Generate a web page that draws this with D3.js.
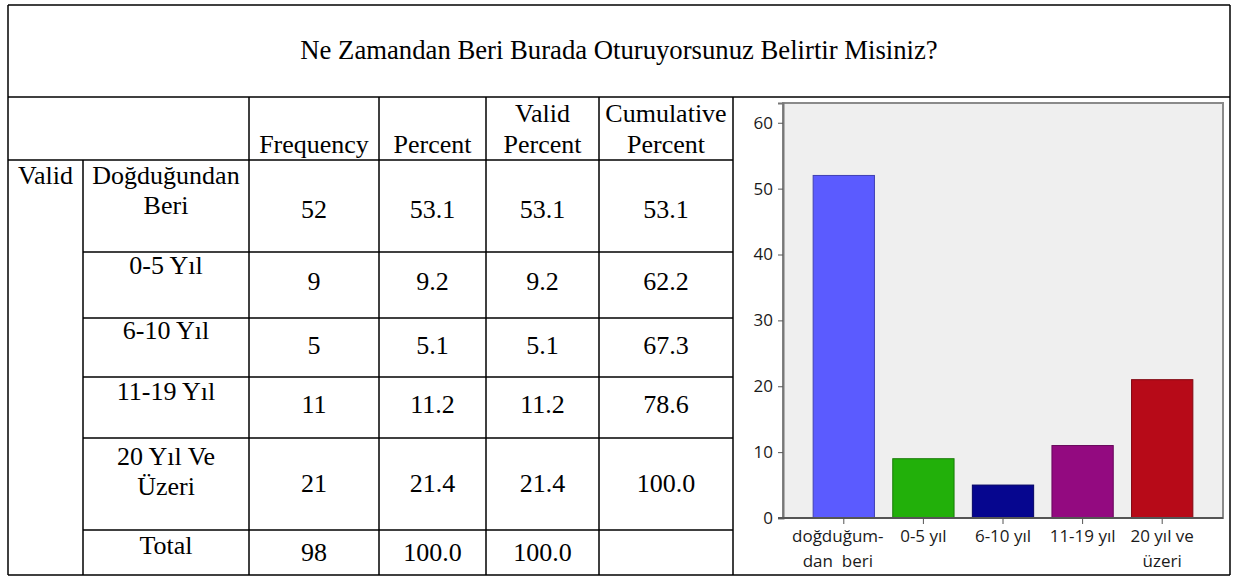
<!DOCTYPE html>
<meta charset="utf-8">
<script src="https://d3js.org/d3.v7.min.js"></script>
<style>
    body { margin: 0; background: #fff; }
    .cell { font-family: "Liberation Serif", "Times New Roman", serif; font-size: 26px; fill: #000; text-anchor: middle; }
    .axisText { font-family: "Open Sans", "Noto Sans", sans-serif; font-size: 17px; fill: #1a1a1a; }
</style>
<div id="chart"></div>
<script>
    // ---- data ----
    const title = "Ne Zamandan Beri Burada Oturuyorsunuz Belirtir Misiniz?";
    const headers = [[""], ["Frequency"], ["Percent"], ["Valid", "Percent"], ["Cumulative", "Percent"]];
    const categories = [["Doğduğundan", "Beri"], ["0-5 Yıl"], ["6-10 Yıl"], ["11-19 Yıl"], ["20 Yıl Ve", "Üzeri"]];
    const frequency = [52, 9, 5, 11, 21];
    const percent = [53.1, 9.2, 5.1, 11.2, 21.4];
    const validPercent = [53.1, 9.2, 5.1, 11.2, 21.4];
    const cumulativePercent = [53.1, 62.2, 67.3, 78.6, 100.0];
    const totalRow = ["Total", "98", "100.0", "100.0", ""];
    const barLabels = [["doğduğum-", "dan  beri"], ["0-5 yıl"], ["6-10 yıl"], ["11-19 yıl"], ["20 yıl ve", "üzeri"]];
    const yTicks = [0, 10, 20, 30, 40, 50, 60];

    const barColors = ["#5b5bff", "#22b00a", "#06068f", "#930a80", "#b70a18"];

    // ---- layout ----
    const W = 1234, H = 577;
    const colX = [8, 83, 249, 379, 486, 599, 733, 1230];
    const tblTop = 5, headTop = 97, bodyTop = 160, tblBottom = 575;
    const rowY = [160, 252, 318, 377, 438, 530, 575];
    const numOffset = [58, 38, 36, 36, 54, 31];  // baseline offset of numbers inside row
    const labelOffset = [24, 22, 21, 23, 27, 24];
    const lineH = 29.5;

    const svg = d3.select("#chart").append("svg").attr("width", W).attr("height", H);

    const g = svg.append("g").attr("class", "table");
    const line = (x1, y1, x2, y2) => g.append("line")
        .attr("x1", x1).attr("y1", y1).attr("x2", x2).attr("y2", y2)
        .attr("stroke", "#000").attr("stroke-width", 1.5);

    // outer border + title row
    line(colX[0], tblTop, colX[7], tblTop);
    line(colX[0], headTop, colX[7], headTop);
    line(colX[0], tblBottom, colX[7], tblBottom);
    line(colX[0], tblTop, colX[0], tblBottom);
    line(colX[7], tblTop, colX[7], tblBottom);
    // column lines
    line(colX[1], bodyTop, colX[1], tblBottom);
    colX.slice(2, 7).forEach(x => line(x, headTop, x, tblBottom));
    // row lines
    line(colX[0], bodyTop, colX[6], bodyTop);
    rowY.slice(1, 6).forEach(y => line(colX[1], y, colX[6], y));

    const mid = i => (colX[i] + colX[i + 1]) / 2;

    g.append("text").attr("class", "cell").style("font-size", "26.7px")
        .attr("x", (colX[0] + colX[7]) / 2).attr("y", 59).text(title);

    // headers
    headers.forEach((h, j) => {
        const cx = j === 0 ? (colX[0] + colX[2]) / 2 : mid(j + 1);
        h.forEach((t, k) => {
            g.append("text").attr("class", "cell")
                .attr("x", cx).attr("y", 153 - (h.length - 1 - k) * 31).text(t);
        });
    });

    g.append("text").attr("class", "cell").attr("x", mid(0)).attr("y", 184).text("Valid");

    const rows = categories.map((c, i) => ({
        label: c,
        vals: [String(frequency[i]), percent[i].toFixed(1), validPercent[i].toFixed(1), cumulativePercent[i].toFixed(1)]
    }));
    rows.push({ label: [totalRow[0]], vals: totalRow.slice(1), total: true });

    rows.forEach((r, i) => {
        const y0 = rowY[i];
        r.label.forEach((t, k) => {
            g.append("text").attr("class", "cell")
                .attr("x", mid(1))
                .attr("y", r.total ? y0 + numOffset[i] - 7 : y0 + labelOffset[i] + k * lineH)
                .text(t);
        });
        g.selectAll(null).data(r.vals).join("text")
            .attr("class", "cell")
            .attr("x", (d, j) => mid(j + 2))
            .attr("y", y0 + numOffset[i])
            .text(d => d);
    });

    // ---- bar chart ----
    const plot = { left: 783, right: 1223, top: 103, bottom: 518 };

    const y = d3.scaleLinear().domain([0, 63]).range([plot.bottom, plot.top]);
    const x = d3.scaleBand().domain(d3.range(frequency.length))
        .range([804, 1202]).paddingInner(0.23).paddingOuter(0.115);

    const c = svg.append("g").attr("class", "chart");

    c.append("rect")
        .attr("x", plot.left).attr("y", plot.top)
        .attr("width", plot.right - plot.left).attr("height", plot.bottom - plot.top)
        .attr("fill", "#efefef").attr("stroke", "#8a8a8a").attr("stroke-width", 2);

    c.selectAll(".bar").data(frequency).join("rect")
        .attr("class", "bar")
        .attr("x", (d, i) => x(i))
        .attr("y", d => y(d))
        .attr("width", x.bandwidth())
        .attr("height", d => y(0) - y(d))
        .attr("fill", (d, i) => barColors[i])
        .attr("stroke", (d, i) => d3.color(barColors[i]).darker(1))
        .attr("stroke-width", 1);

    const yAxis = c.append("g")
        .attr("transform", `translate(${plot.left},0)`)
        .call(d3.axisLeft(y).tickValues(yTicks).tickSize(5).tickPadding(5));
    yAxis.attr("font-size", 17).attr("font-family", "'Open Sans', 'Noto Sans', sans-serif");
    yAxis.select(".domain").attr("stroke", "#777").attr("stroke-width", 2);
    yAxis.selectAll(".tick line").attr("stroke", "#555");
    yAxis.selectAll(".tick text").attr("fill", "#1a1a1a");

    const xAxis = c.append("g")
        .attr("transform", `translate(0,${plot.bottom})`)
        .call(d3.axisBottom(x).tickSize(6).tickFormat(""));
    xAxis.select(".domain").attr("d", `M${plot.left - 5},0H${plot.right}`)
        .attr("stroke", "#555").attr("stroke-width", 2);
    xAxis.selectAll(".tick line").attr("stroke", "#555");

    barLabels.forEach((lab, i) => {
        lab.forEach((t, k) => {
            c.append("text").attr("class", "axisText")
                .attr("text-anchor", "middle")
                .style("white-space", "pre")
                .attr("x", x(i) + x.bandwidth() / 2 - (i === 0 ? 6 : 0))
                .attr("y", 542 + k * 25)
                .text(t);
        });
    });
</script>
